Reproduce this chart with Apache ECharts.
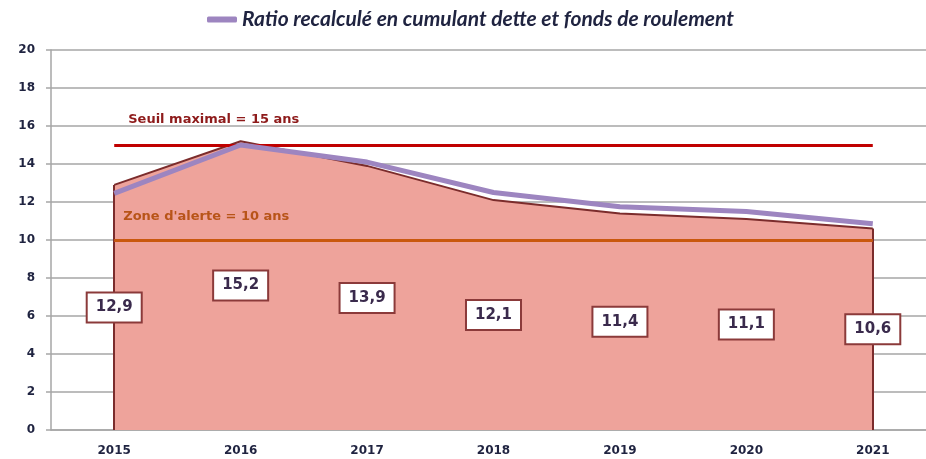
<!DOCTYPE html>
<html>
<head>
<meta charset="utf-8">
<script src="https://cdn.jsdelivr.net/npm/echarts@6/dist/echarts.min.js"></script>
<style>
html,body{margin:0;padding:0;background:#fff;}
#chart{width:926px;height:459px;}
</style>
</head>
<body>
<div id="chart"></div>
<script>
// données
var years = ['2015', '2016', '2017', '2018', '2019', '2020', '2021'];
var ratioDette = [12.9, 15.2, 13.9, 12.1, 11.4, 11.1, 10.6];
var ratioRecalcule = [12.45, 15.0, 14.1, 12.5, 11.75, 11.5, 10.85];
var seuilMax = 15;
var zoneAlerte = 10;
var yTicks = {min: 0, max: 20, interval: 2};

var axisGrey = '#A6A6A6';
var txtDark = '#1F2340';

function fr(v){ return String(v).replace('.', ','); }

var chart = echarts.init(document.getElementById('chart'));

var last = years.length - 1;

chart.setOption({
	animation: false,
	legend: {
		top: 4,
		left: 202,
		icon: 'roundRect',
		itemWidth: 30,
		itemHeight: 6,
		itemGap: 10,
		textStyle: {
			fontFamily: 'Lato',
			fontStyle: 'italic',
			fontWeight: 'bold',
			fontSize: 21,
			color: txtDark
		},
		data: ['Ratio recalculé en cumulant dette et fonds de roulement']
	},
	grid: {
		left: 51,
		width: 885,
		top: 50,
		bottom: 29,
		containLabel: false,
		outerBoundsMode: 'none'
	},
	xAxis: {
		type: 'category',
		data: years,
		boundaryGap: true,
		axisLine: {lineStyle: {color: axisGrey, width: 1.5}},
		axisTick: {length: 6, lineStyle: {color: axisGrey, width: 1.5}},
		axisLabel: {
			margin: 15,
			fontFamily: 'DejaVu Sans',
			fontWeight: 'bold',
			fontSize: 12,
			color: txtDark
		},
		splitLine: {show: false}
	},
	yAxis: {
		type: 'value',
		min: yTicks.min,
		max: yTicks.max,
		interval: yTicks.interval,
		axisLine: {show: true, lineStyle: {color: axisGrey, width: 1.5}},
		axisTick: {show: true, length: 5, lineStyle: {color: axisGrey, width: 1.5}},
		axisLabel: {
			margin: 16,
			fontFamily: 'DejaVu Sans',
			fontWeight: 'bold',
			fontSize: 12,
			color: txtDark
		},
		splitLine: {lineStyle: {color: axisGrey, width: 1.5}}
	},
	series: [
		{
			name: 'Ratio',
			type: 'line',
			data: ratioDette,
			symbol: 'none',
			z: 2,
			lineStyle: {color: '#7B2C2C', width: 2},
			areaStyle: {color: '#EEA39B', opacity: 1},
			markLine: {
				silent: true,
				symbol: 'none',
				z: 3,
				data: [
					// bords verticaux de l'aire
					[{coord: [0, 0], lineStyle: {color: '#7B2C2C', width: 2, type: 'solid'}, label: {show: false}},
					 {coord: [0, ratioDette[0]]}],
					[{coord: [last, 0], lineStyle: {color: '#7B2C2C', width: 2, type: 'solid'}, label: {show: false}},
					 {coord: [last, ratioDette[last]]}],
					// seuils
					[{coord: [0, seuilMax],
					  lineStyle: {color: '#C00000', width: 3, type: 'solid'},
					  label: {show: true, position: 'insideStartTop', distance: [14, 19],
						formatter: 'Seuil maximal = ' + seuilMax + ' ans',
						fontFamily: 'DejaVu Sans', fontWeight: 'bold', fontSize: 13, color: '#8E1B1B'}},
					 {coord: [last, seuilMax]}],
					[{coord: [0, zoneAlerte],
					  lineStyle: {color: '#C9580E', width: 3, type: 'solid'},
					  label: {show: true, position: 'insideStartTop', distance: [9, 17],
						formatter: "Zone d'alerte = " + zoneAlerte + ' ans',
						fontFamily: 'DejaVu Sans', fontWeight: 'bold', fontSize: 13, color: '#B85418'}},
					 {coord: [last, zoneAlerte]}]
				]
			}
		},
		{
			name: 'Ratio recalculé en cumulant dette et fonds de roulement',
			type: 'line',
			data: ratioRecalcule,
			symbol: 'none',
			z: 4,
			itemStyle: {color: '#9D85C0'},
			lineStyle: {color: '#9D85C0', width: 5}
		},
		{
			name: 'etiquettes',
			type: 'custom',
			z: 5,
			data: ratioDette,
			renderItem: function(params, api){
				var v = api.value(0);
				var top = api.coord([params.dataIndex, v]);
				var base = api.coord([params.dataIndex, 0]);
				return {
					type: 'text',
					x: top[0],
					y: (top[1] + base[1]) / 2,
					style: {
						text: fr(v),
						align: 'center',
						verticalAlign: 'middle',
						font: 'bold 15px "DejaVu Sans"',
						fill: '#3A2A4C',
						backgroundColor: '#FFFFFF',
						borderColor: '#8B3A3A',
						borderWidth: 2,
						padding: [7, 8, 6, 8]
					}
				};
			},
			encode: {x: -1, y: 0}
		}
	]
});
</script>
</body>
</html>
